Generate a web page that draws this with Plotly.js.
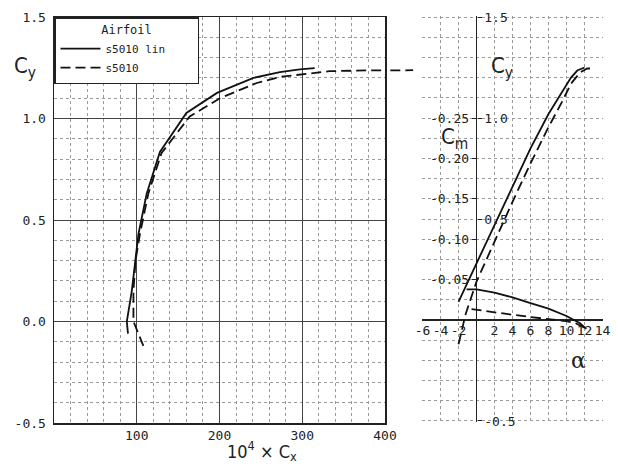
<!DOCTYPE html>
<html>
<head>
<meta charset="utf-8">
<script src="https://cdn.plot.ly/plotly-3.0.1.min.js"></script>
<style>html,body{margin:0;padding:0;background:#fff;}#chart{width:618px;height:466px;}</style>
</head>
<body>
<div id="chart"></div>
<script>
// Polar: 10^4*Cx vs Cy
const polarCxLin = [89.4, 88, 94, 98, 102, 112, 128, 160, 197, 241, 273, 297, 315];
const polarCyLin = [-0.06, 0.0, 0.15, 0.30, 0.43, 0.63, 0.835, 1.027, 1.126, 1.20, 1.228, 1.242, 1.248];
const polarCxBase = [108, 101.5, 96, 96, 98.5, 104, 114, 130, 164, 200.6, 245, 273, 297, 333, 380, 434];
const polarCyBase = [-0.12, -0.055, 0.0, 0.15, 0.30, 0.434, 0.63, 0.83, 1.01, 1.10, 1.175, 1.205, 1.216, 1.233, 1.237, 1.238];

// Cy vs alpha
const alphaLin = [-2, 0, 2, 4, 6, 8, 9.5, 10.5, 11.2, 12.0];
const cyAlphaLin = [0.09, 0.28, 0.47, 0.66, 0.85, 1.02, 1.13, 1.20, 1.235, 1.25];
const alphaBase = [-2, -1.2, 0, 2, 4, 6, 8, 9.5, 10.5, 11.5, 12.3, 13.0];
const cyAlphaBase = [-0.12, 0.03, 0.19, 0.39, 0.585, 0.775, 0.955, 1.08, 1.17, 1.225, 1.245, 1.245];

// Cm vs alpha
const alphaCmLin = [-1.1, 0, 2, 4, 6, 8, 10, 11.5, 12.2];
const cmLin = [-0.038, -0.038, -0.034, -0.028, -0.021, -0.014, -0.005, 0.004, 0.011];
const alphaCmBase = [-0.55, 0, 2, 4, 6, 8, 10, 11, 12.2];
const cmBase = [-0.0135, -0.0125, -0.0095, -0.0065, -0.0035, -0.001, 0.0015, 0.004, 0.0105];

// Legend names and tick labels
const nameLin = 's5010 lin';
const nameBase = 's5010';
const cxTickVals = [0, 100, 200, 300, 400];
const cxTickText = ['', '100', '200', '300', '400'];
const cyTickVals = [-0.5, 0, 0.5, 1.0, 1.5];
const cyTickText = ['-0.5', '0.0', '0.5', '1.0', '1.5'];
const alphaTickVals = [-6, -4, -2, 0, 2, 4, 6, 8, 10, 12, 14];
const alphaTickText = ['-6', '-4', '-2', '', '2', '4', '6', '8', '10', '12', '14'];
const cyRightTickVals = [-0.5, 0.5, 1.0, 1.5];
const cyRightTickText = ['-0.5', '0.5', '1.0', '1.5'];
const cmTickVals = [-0.25, -0.20, -0.15, -0.10, -0.05];
const cmTickText = ['-0.25', '-0.20', '-0.15', '-0.10', '-0.05'];

const W = 618, H = 466;
const px = v => v / W;
const py = v => (H - v) / H;

const solid = {color: '#111', width: 1.8};
const dashed = {color: '#111', width: 1.8, dash: '10px,5px'};
const mono = 'DejaVu Sans Mono, Liberation Mono, monospace';
const narrow = 'Liberation Sans Narrow, DejaVu Sans Condensed, Liberation Sans, sans-serif';
const dotGrid = '#9a9a9a';
const pad = '\u00a0\u00a0\u00a0\u00a0';

const traces = [
  {x: polarCxLin, y: polarCyLin, name: nameLin + pad, mode: 'lines', line: solid, xaxis: 'x', yaxis: 'y'},
  {x: polarCxBase, y: polarCyBase, name: nameBase, mode: 'lines', line: dashed, xaxis: 'x', yaxis: 'y'},
  {x: polarCxBase, y: polarCyBase, name: nameBase, mode: 'lines', line: dashed, xaxis: 'x3', yaxis: 'y4', showlegend: false},
  {x: alphaLin, y: cyAlphaLin, name: nameLin, mode: 'lines', line: solid, xaxis: 'x2', yaxis: 'y2', showlegend: false},
  {x: alphaBase, y: cyAlphaBase, name: nameBase, mode: 'lines', line: dashed, xaxis: 'x2', yaxis: 'y2', showlegend: false},
  {x: alphaCmLin, y: cmLin, name: nameLin, mode: 'lines', line: solid, xaxis: 'x2', yaxis: 'y3', showlegend: false},
  {x: alphaCmBase, y: cmBase, name: nameBase, mode: 'lines', line: dashed, xaxis: 'x2', yaxis: 'y3', showlegend: false}
];

const leftYDomain = [py(423), py(17)];
const rightYDomain = [py(422), py(16)];
const tickFont = {family: mono, size: 13, color: '#222'};

function label(text, x, y, family, size) {
  return {text: text, x: px(x), y: py(y), xref: 'paper', yref: 'paper', showarrow: false,
          xanchor: 'center', yanchor: 'middle', font: {family: family, size: size, color: '#222'}};
}

const layout = {
  width: W, height: H,
  margin: {l: 0, r: 0, t: 0, b: 0},
  paper_bgcolor: '#fff', plot_bgcolor: 'rgba(0,0,0,0)',
  showlegend: true,
  legend: {
    x: px(54), y: py(17), xanchor: 'left', yanchor: 'top',
    bgcolor: '#fff', bordercolor: '#222', borderwidth: 1.5,
    font: {family: mono, size: 11, color: '#222'},
    title: {text: 'Airfoil', side: 'top center', font: {family: mono, size: 12, color: '#222'}},
    itemwidth: 40, tracegroupgap: 0
  },
  xaxis: {
    domain: [px(54), px(385)], range: [0, 400], anchor: 'y',
    tickmode: 'array', tickvals: cxTickVals, ticktext: cxTickText,
    showgrid: true, gridcolor: '#444', gridwidth: 1,
    minor: {tickmode: 'linear', tick0: 0, dtick: 20, showgrid: true, gridcolor: dotGrid, griddash: 'dot', gridwidth: 1},
    showline: true, mirror: true, linecolor: '#222', linewidth: 1.5,
    zeroline: false, ticks: '', tickfont: tickFont
  },
  yaxis: {
    domain: leftYDomain, range: [-0.5, 1.5], anchor: 'x',
    tickmode: 'array', tickvals: cyTickVals, ticktext: cyTickText,
    showgrid: true, gridcolor: '#444', gridwidth: 1,
    minor: {tickmode: 'linear', tick0: 0, dtick: 0.1, showgrid: true, gridcolor: dotGrid, griddash: 'dot', gridwidth: 1},
    showline: true, mirror: true, linecolor: '#222', linewidth: 1.5,
    zeroline: false, ticks: '', tickfont: tickFont, ticklabelstandoff: 4
  },
  xaxis2: {
    domain: [px(422.05), px(602.95)], range: [-6.05, 14.05],
    anchor: 'free', position: py(320.7),
    tickmode: 'array', tickvals: alphaTickVals, ticktext: alphaTickText,
    showgrid: true, gridcolor: dotGrid, griddash: 'dot', gridwidth: 1,
    zeroline: true, zerolinecolor: '#222', zerolinewidth: 1.5,
    showline: false, ticks: '', tickfont: tickFont
  },
  yaxis2: {
    domain: rightYDomain, range: [-0.505, 1.505],
    anchor: 'free', position: px(476.7), side: 'right',
    tickmode: 'array', tickvals: cyRightTickVals, ticktext: cyRightTickText,
    showgrid: true, gridcolor: dotGrid, griddash: 'dot', gridwidth: 1,
    minor: {tickmode: 'linear', tick0: 0, dtick: 0.1, showgrid: true, gridcolor: dotGrid, griddash: 'dot', gridwidth: 1},
    zeroline: true, zerolinecolor: '#222', zerolinewidth: 1.5,
    showline: false, ticks: 'outside', ticklen: 4, tickcolor: '#222', tickfont: tickFont
  },
  yaxis3: {
    domain: rightYDomain, range: [0.12625, -0.37625], overlaying: 'y2',
    anchor: 'free', position: px(476.7), side: 'left',
    tickmode: 'array', tickvals: cmTickVals, ticktext: cmTickText,
    showgrid: false, zeroline: false, showline: false,
    ticks: 'outside', ticklen: 5, tickcolor: '#222', tickfont: tickFont
  },
  xaxis3: {
    domain: [px(385), px(421)], range: [400, 400 + 36 / 0.8275], anchor: 'y4', visible: false, showgrid: false
  },
  yaxis4: {
    domain: leftYDomain, range: [-0.5, 1.5], anchor: 'x3', visible: false, showgrid: false
  },
  annotations: [
    label('C<sub>y</sub>', 25, 67, narrow, 22),
    label('10<sup>4</sup> × C<sub>x</sub>', 262, 451, narrow, 18),
    label('C<sub>y</sub>', 502, 68, narrow, 22),
    label('C<sub>m</sub>', 454, 138, narrow, 22),
    label('α', 578, 360, 'DejaVu Serif, serif', 22)
  ]
};

Plotly.newPlot('chart', traces, layout, {staticPlot: true, displayModeBar: false});
</script>
</body>
</html>
